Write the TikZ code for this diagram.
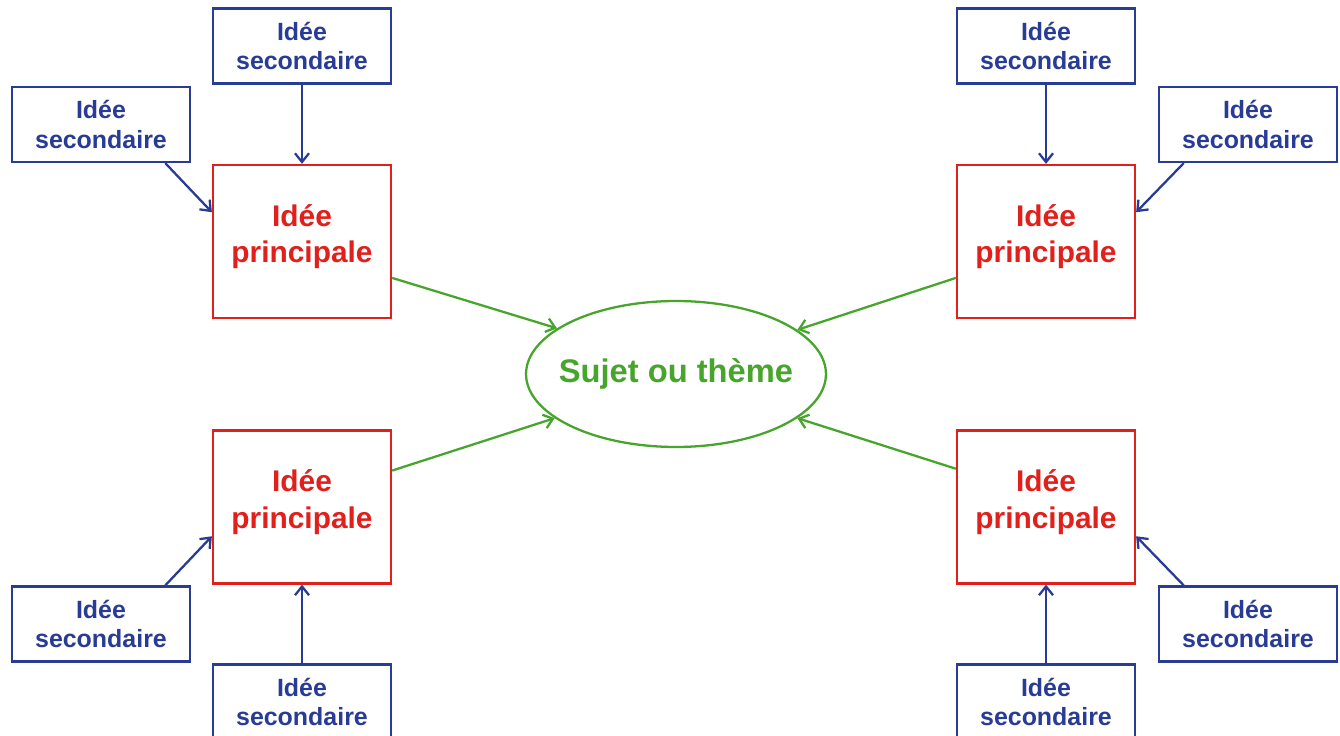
\documentclass[tikz,border=0pt]{standalone}
\usepackage{fontspec}
\setmainfont{Liberation Sans}
\usetikzlibrary{shapes.geometric,arrows.meta}
\definecolor{secblue}{RGB}{40,60,150}
\definecolor{mainred}{RGB}{225,32,28}
\definecolor{themegreen}{RGB}{72,165,44}

\begin{document}
\begin{tikzpicture}[x=0.02cm,y=-0.02cm,
    >={Straight Barb[length=5pt,width=8pt]},
    secbox/.style={draw=secblue, line width=1.3pt, text=secblue, align=center,
      minimum width=3.56cm, minimum height=1.5cm, inner sep=0pt,
      font=\fontsize{14.2}{17}\selectfont\bfseries},
    mainbox/.style={draw=mainred, line width=1.3pt, text=mainred, align=center,
      minimum width=3.56cm, minimum height=3.06cm, inner sep=0pt, text depth=9pt,
      font=\fontsize{17}{21}\selectfont\bfseries},
    theme/.style={ellipse, draw=themegreen, line width=1.3pt, text=themegreen,
      minimum width=6cm, minimum height=2.92cm, inner xsep=-0.25cm, inner ysep=0pt,
      font=\fontsize{18.6}{22}\selectfont\bfseries},
    secarrow/.style={->, draw=secblue, line width=1.3pt},
    mainarrow/.style={->, draw=themegreen, line width=1.3pt}]
    \useasboundingbox[fill=white] (0,0) rectangle (1340,736);

    % Nodes
    \node[theme] (T) at (676,374) {Sujet ou thème};

    \node[mainbox] (P1) at (302,241.5) {Idée\\principale};
    \node[mainbox] (P2) at (1046,241.5) {Idée\\principale};
    \node[mainbox] (P3) at (302,507) {Idée\\principale};
    \node[mainbox] (P4) at (1046,507) {Idée\\principale};

    \node[secbox] (S1a) at (302,46) {Idée\\secondaire};
    \node[secbox] (S1b) at (101,124.5) {Idée\\secondaire};
    \node[secbox] (S2a) at (1046,46) {Idée\\secondaire};
    \node[secbox] (S2b) at (1248,124.5) {Idée\\secondaire};
    \node[secbox] (S3a) at (101,624) {Idée\\secondaire};
    \node[secbox] (S3b) at (302,702) {Idée\\secondaire};
    \node[secbox] (S4a) at (1248,624) {Idée\\secondaire};
    \node[secbox] (S4b) at (1046,702) {Idée\\secondaire};

    % Arrows
    \draw[mainarrow] (P1.-22) -- (T.159.5);
    \draw[mainarrow] (P2.202) -- (T.20.5);
    \draw[mainarrow] (P3.22.5) -- (T.200.5);
    \draw[mainarrow] (P4.157.5) -- (T.-20.5);

    \draw[secarrow] (S1a) -- (P1);
    \draw[secarrow] (S1b.-31) -- (P1.162);
    \draw[secarrow] (S2a) -- (P2);
    \draw[secarrow] (S2b.211) -- (P2.18);
    \draw[secarrow] (S3a.31) -- (P3.198);
    \draw[secarrow] (S3b) -- (P3);
    \draw[secarrow] (S4a.149) -- (P4.-18);
    \draw[secarrow] (S4b) -- (P4);
  \end{tikzpicture}
\end{document}
